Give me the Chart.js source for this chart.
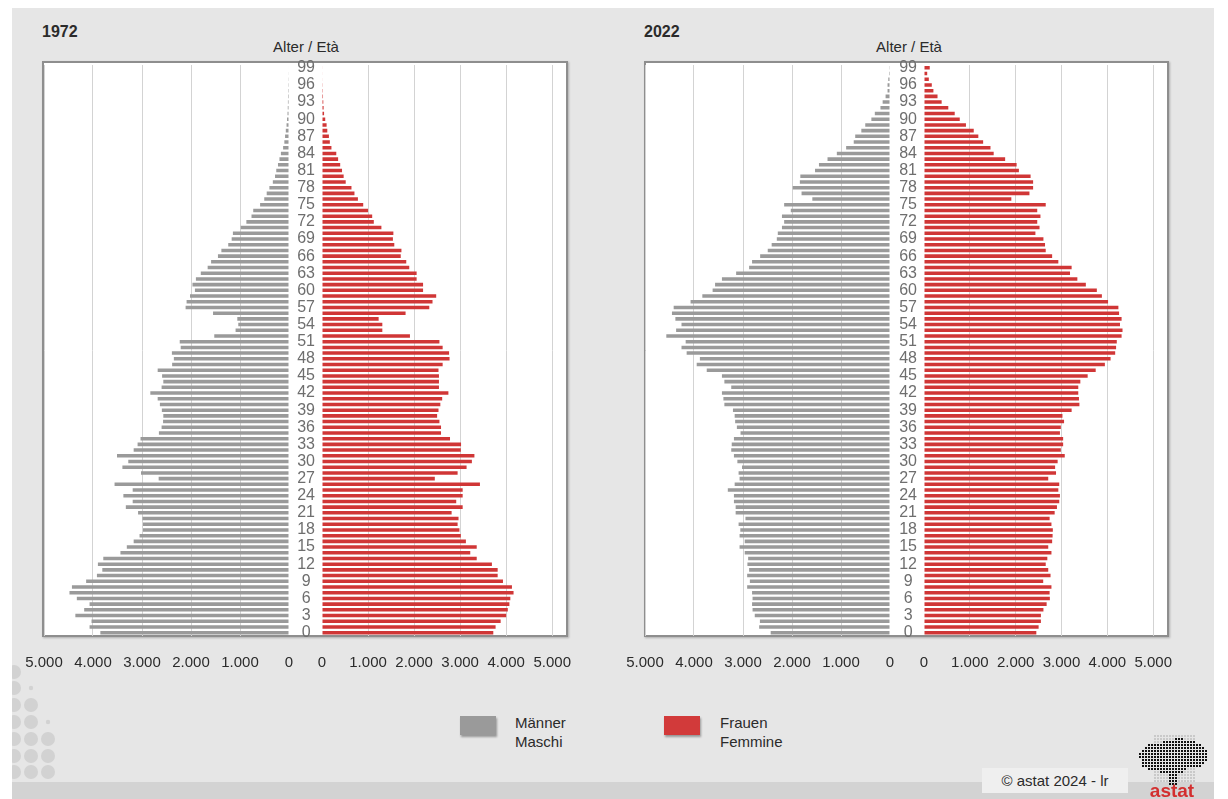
<!DOCTYPE html>
<html>
<head>
<meta charset="utf-8">
<script src="https://cdn.jsdelivr.net/npm/chart.js@4.4.1/dist/chart.umd.min.js"></script>
<style>
  body { margin: 0; width: 1228px; height: 799px; background: #fff; position: relative; overflow: hidden;
         font-family: "Liberation Sans", Arial, sans-serif; color: #2b2b2b; }
  .abs { position: absolute; }
  #bg { left: 12px; top: 8px; width: 1202px; height: 791px; background: #e6e6e6; }
  #band { left: 12px; top: 782px; width: 1202px; height: 17px; background: #d3d3d3; }
  .box { background: #fff; border: 2px solid #8e8e8e; box-sizing: border-box; box-shadow: 1px 1px 2px rgba(0,0,0,0.25); }
  canvas { position: absolute; top: 0; }
  .year { font-weight: bold; font-size: 16px; line-height: 16px; }
  .axt { font-size: 15px; line-height: 16px; transform: translateX(-50%); white-space: nowrap; }
  .leg { font-size: 15px; line-height: 19px; }
  .sw { width: 36px; height: 19px; box-shadow: 1px 2px 2px rgba(0,0,0,0.35); }
  #copy { left: 982px; top: 768px; width: 146px; height: 25px; background: #efefef; font-size: 15px; line-height: 25px; text-align: center; }
</style>
</head>
<body>
<div id="bg" class="abs"></div>
<div id="band" class="abs"></div>
<canvas id="dots" width="60" height="125" style="left:0;top:660px"></canvas>

<div class="abs box" style="left:42px;top:61px;width:526px;height:576px"></div>
<div class="abs box" style="left:644px;top:61px;width:525px;height:576px"></div>

<div class="abs year" style="left:42px;top:24px">1972</div>
<div class="abs axt" style="left:306px;top:39px">Alter / Età</div>
<div class="abs year" style="left:644px;top:24px">2022</div>
<div class="abs axt" style="left:909px;top:39px">Alter / Età</div>

<canvas id="m1972" width="300" height="700" style="left:0px"></canvas>
<canvas id="f1972" width="300" height="700" style="left:289px"></canvas>
<canvas id="m2022" width="300" height="700" style="left:600px"></canvas>
<canvas id="f2022" width="300" height="700" style="left:890px"></canvas>

<div class="abs sw" style="left:460px;top:716px;background:#9a9a9a"></div>
<div class="abs leg" style="left:515px;top:713px">Männer<br>Maschi</div>
<div class="abs sw" style="left:664px;top:716px;background:#d23a3a"></div>
<div class="abs leg" style="left:720px;top:713px">Frauen<br>Femmine</div>

<div id="copy" class="abs">© astat 2024 - lr</div>
<canvas id="logo" width="80" height="68" style="left:1132px;top:731px"></canvas>

<script>
// ages 0..99 (99 = 99 and older)
const ages = Array.from({ length: 100 }, (_, i) => i);
const xTickValues = [0, 1000, 2000, 3000, 4000, 5000];
const ageLabelStep = 3;

// population per single year of age, index = age
const men1972 = [
  3850, 4070, 4030, 4360, 4180, 4070, 4330, 4480, 4430, 4140,
  3920, 3810, 3900, 3790, 3440, 3310, 3170, 3050, 2980, 2980,
  2990, 3080, 3330, 3190, 3380, 3190, 3560, 2660, 3020, 3400,
  3280, 3510, 3170, 3090, 3030, 2655, 2600, 2570, 2565, 2595,
  2635, 2680, 2830, 2600, 2565, 2590, 2680, 2385, 2350, 2390,
  2210, 2230, 1525, 1090, 1035, 1055, 1550, 2110, 2090, 2020,
  1920, 1970, 1900, 1800, 1660, 1590, 1450, 1380, 1240, 1170,
  1145, 985, 870, 765, 730, 590, 505, 455, 400, 330,
  285, 260, 225, 195, 165, 120, 95, 80, 65, 50,
  40, 30, 25, 22, 20, 18, 16, 14, 12, 10
];
const women1972 = [
  3720, 3770, 3880, 4000, 4035, 4070, 4090, 4160, 4125, 3930,
  3815, 3815, 3690, 3360, 3220, 3360, 3125, 3015, 2985, 2945,
  2965, 2815, 3055, 2915, 3055, 3055, 3430, 2450, 2945, 3140,
  3255, 3310, 3015, 3020, 2780, 2585, 2585, 2550, 2500, 2530,
  2570, 2610, 2745, 2540, 2540, 2540, 2530, 2620, 2770, 2760,
  2620, 2550, 1910, 1310, 1310, 1230, 1815, 2330, 2400, 2480,
  2195, 2195, 2055, 2055, 1895, 1830, 1710, 1725, 1570, 1540,
  1550, 1290, 1125, 1090, 1000, 895, 780, 705, 640, 515,
  470, 435, 395, 350, 310, 205, 170, 150, 115, 100,
  70, 45, 35, 28, 22, 18, 15, 12, 10, 10
];
const men2022 = [
  2435, 2670, 2655, 2760, 2805, 2815, 2805, 2815, 2915, 2860,
  2915, 2875, 2910, 2895, 2965, 3070, 2965, 3070, 3055, 3090,
  2950, 3150, 3150, 3185, 3185, 3310, 3170, 3070, 3090, 3020,
  3115, 3185, 3240, 3230, 3185, 3050, 3125, 3160, 3170, 3205,
  3380, 3400, 3430, 3240, 3380, 3430, 3740, 3945, 3880, 4150,
  4255, 4170, 4565, 4365, 4255, 4380, 4450, 4415, 4070, 3830,
  3620, 3570, 3430, 3140, 2875, 2815, 2650, 2495, 2415, 2310,
  2290, 2205, 2160, 2205, 2025, 2160, 1585, 1805, 1985, 1840,
  1830, 1530, 1450, 1275, 1085, 895, 740, 710, 585, 505,
  380, 310, 195, 150, 90, 50, 50, 35, 20, 15
];
const women2022 = [
  2450, 2500, 2550, 2550, 2605, 2675, 2745, 2740, 2780, 2600,
  2760, 2710, 2655, 2690, 2780, 2710, 2795, 2805, 2810, 2780,
  2740, 2850, 2900, 2950, 2965, 2930, 2950, 2710, 2880, 2860,
  2915, 3070, 2985, 3035, 3035, 2965, 2985, 3055, 3020, 3220,
  3390, 3380, 3365, 3365, 3410, 3570, 3745, 3945, 4070, 4170,
  4190, 4205, 4310, 4330, 4275, 4310, 4255, 4240, 4015, 3880,
  3770, 3530, 3345, 3185, 3220, 2930, 2795, 2655, 2640, 2605,
  2430, 2520, 2470, 2540, 2470, 2655, 1905, 2300, 2380, 2380,
  2325, 2070, 2020, 1770, 1520, 1450, 1290, 1185, 1085, 915,
  780, 670, 530, 385, 295, 205, 170, 105, 70, 125
];

const GRAY = '#9a9a9a';
const RED = '#d03636';
Chart.defaults.font.family = '"Liberation Sans", Arial, sans-serif';

function fmt(v) {
  return String(v).replace(/\B(?=(\d{3})+(?!\d))/g, '.');
}

// one half of a pyramid; women side carries the age labels in the gap
function half(id, values, color, isMen, pad, gap) {
  new Chart(document.getElementById(id), {
    type: 'bar',
    data: {
      labels: ages,
      datasets: [{ data: values, backgroundColor: color, barPercentage: 0.62, categoryPercentage: 1 }]
    },
    options: {
      indexAxis: 'y',
      responsive: false,
      animation: false,
      layout: { padding: { left: pad[0], right: pad[1], top: 65, bottom: 24.5 } },
      plugins: { legend: { display: false }, tooltip: { enabled: false } },
      scales: {
        x: {
          reverse: isMen,
          min: 0,
          max: 5000,
          afterBuildTicks: s => { s.ticks = xTickValues.map(v => ({ value: v })); },
          afterFit: s => { s.height = 40; },
          border: { display: false },
          grid: {
            drawTicks: false,
            color: c => (c.tick && c.tick.value === 0) ? 'rgba(0,0,0,0)' : '#d3d3d3'
          },
          ticks: { padding: 18, color: '#2b2b2b', font: { size: 15 }, callback: v => fmt(v) }
        },
        y: {
          reverse: true,
          display: !isMen,
          position: 'left',
          afterFit: s => { s.width = gap; },
          border: { display: false },
          grid: { display: false, drawTicks: false },
          ticks: {
            autoSkip: false,
            crossAlign: 'center',
            padding: 7,
            color: '#6e6e6e',
            font: { size: 16 },
            callback: (v, i) => ages[i] % ageLabelStep === 0 ? String(ages[i]) : ''
          }
        }
      }
    }
  });
}

half('m1972', men1972, GRAY, true, [44, 11], 0);
half('f1972', women1972, RED, false, [0, 22], 33);
half('m2022', men2022, GRAY, true, [45, 10], 0);
half('f2022', women2022, RED, false, [0, 22], 34);

// decorative dots, bottom left
(function () {
  const ctx = document.getElementById('dots').getContext('2d');
  ctx.fillStyle = '#d2d2d2';
  const rows = [12, 28, 45, 62, 79, 96, 112];
  const cols = [14, 31, 48];
  const size = [
    [7, 0, 0], [7, 2.2, 0], [7, 7, 0], [7, 7, 2.2], [7, 7, 7], [7, 7, 7], [7, 7, 7]
  ];
  rows.forEach((y, r) => cols.forEach((x, c) => {
    if (!size[r][c]) return;
    ctx.beginPath(); ctx.arc(x, y, size[r][c], 0, Math.PI * 2); ctx.fill();
  }));
  ctx.clearRect(0, 0, 12, 125);
})();

// astat logo
(function () {
  const ctx = document.getElementById('logo').getContext('2d');
  const shape = new Path2D('M6 22 L14 12 L30 10 L44 6 L58 8 L72 14 L76 26 L68 34 L56 36 L46 42 L44 52 L36 52 L34 42 L22 38 L10 36 Z');
  for (let y = 4; y < 54; y += 3) {
    for (let x = 4; x < 78; x += 3) {
      ctx.fillStyle = ctx.isPointInPath(shape, x, y) ? '#111' : '#c9c9c9';
      if (ctx.isPointInPath(shape, x, y) || (x > 20 && x < 64 && y < 52)) ctx.fillRect(x, y, 2, 2);
    }
  }
  ctx.fillStyle = '#d32f2f';
  ctx.font = 'bold 19px "Liberation Sans", Arial, sans-serif';
  ctx.textAlign = 'center';
  ctx.fillText('astat', 40, 66);
})();
</script>
</body>
</html>
